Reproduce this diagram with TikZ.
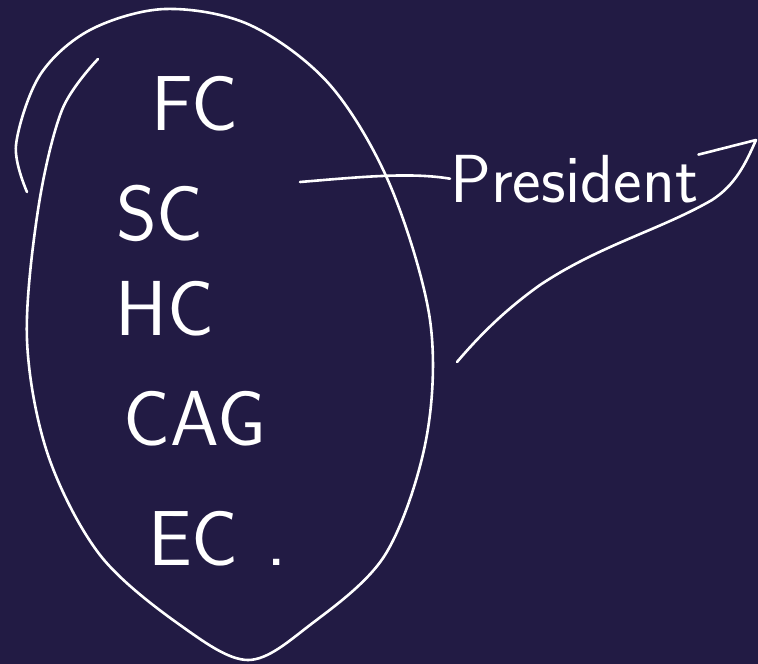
\documentclass[tikz,border=0pt]{standalone}
\usepackage{xcolor}
\usepackage{tikz}
\usetikzlibrary{calc}

\definecolor{boardbg}{RGB}{34,27,68}

\tikzset{
  chalk/.style={draw=white,line width=2.6pt,line cap=round,line join=round},
  word/.style={text=white,inner sep=0pt,font=\sffamily\fontsize{78}{80}\selectfont},
}

\begin{document}
\begin{tikzpicture}[x=1pt,y=-1pt]
  % Background
  \fill[boardbg] (0,0) rectangle (758,664);
  \useasboundingbox (0,0) rectangle (758,664);

  % Bodies inside the loop
  \node[word,anchor=base] (fc)  at (195,130) {FC};
  \node[word,anchor=base] (sc)  at (160,240) {SC};
  \node[word,anchor=base] (hc)  at (165,335) {HC};
  \node[word,anchor=base] (cag) at (195,445) {CAG};
  \node[word,anchor=base west] (ec) at (148,565) {EC\hspace{28pt}.};

  % The loop round them
  \draw[chalk] plot[smooth,tension=0.55] coordinates {
    (27,192) (16,145) (40,75) (90,30) (165,9) (250,25) (330,85)
    (390,185) (430,320) (426,440) (385,555) (310,625) (248,660)
    (180,625) (100,555) (48,455) (27,340) (38,210) (62,110) (98,59)};

  % President and its links
  \node[word,anchor=base west,font=\sffamily\fontsize{68}{72}\selectfont]
    (pres) at (450,202) {President};
  \coordinate (from) at (300,182);
  \coordinate (tip) at (756,140);
  \coordinate (tail) at (457,362);
  \draw[chalk] (from) .. controls (360,177) and (410,172) .. (pres.west);
  \draw[chalk] (pres.north east) -- (tip)
    .. controls (745,165) and (735,185) .. (712,200)
    .. controls (660,230) and (600,245) .. (540,285)
    .. controls (505,310) and (480,335) .. (tail);
\end{tikzpicture}
\end{document}
